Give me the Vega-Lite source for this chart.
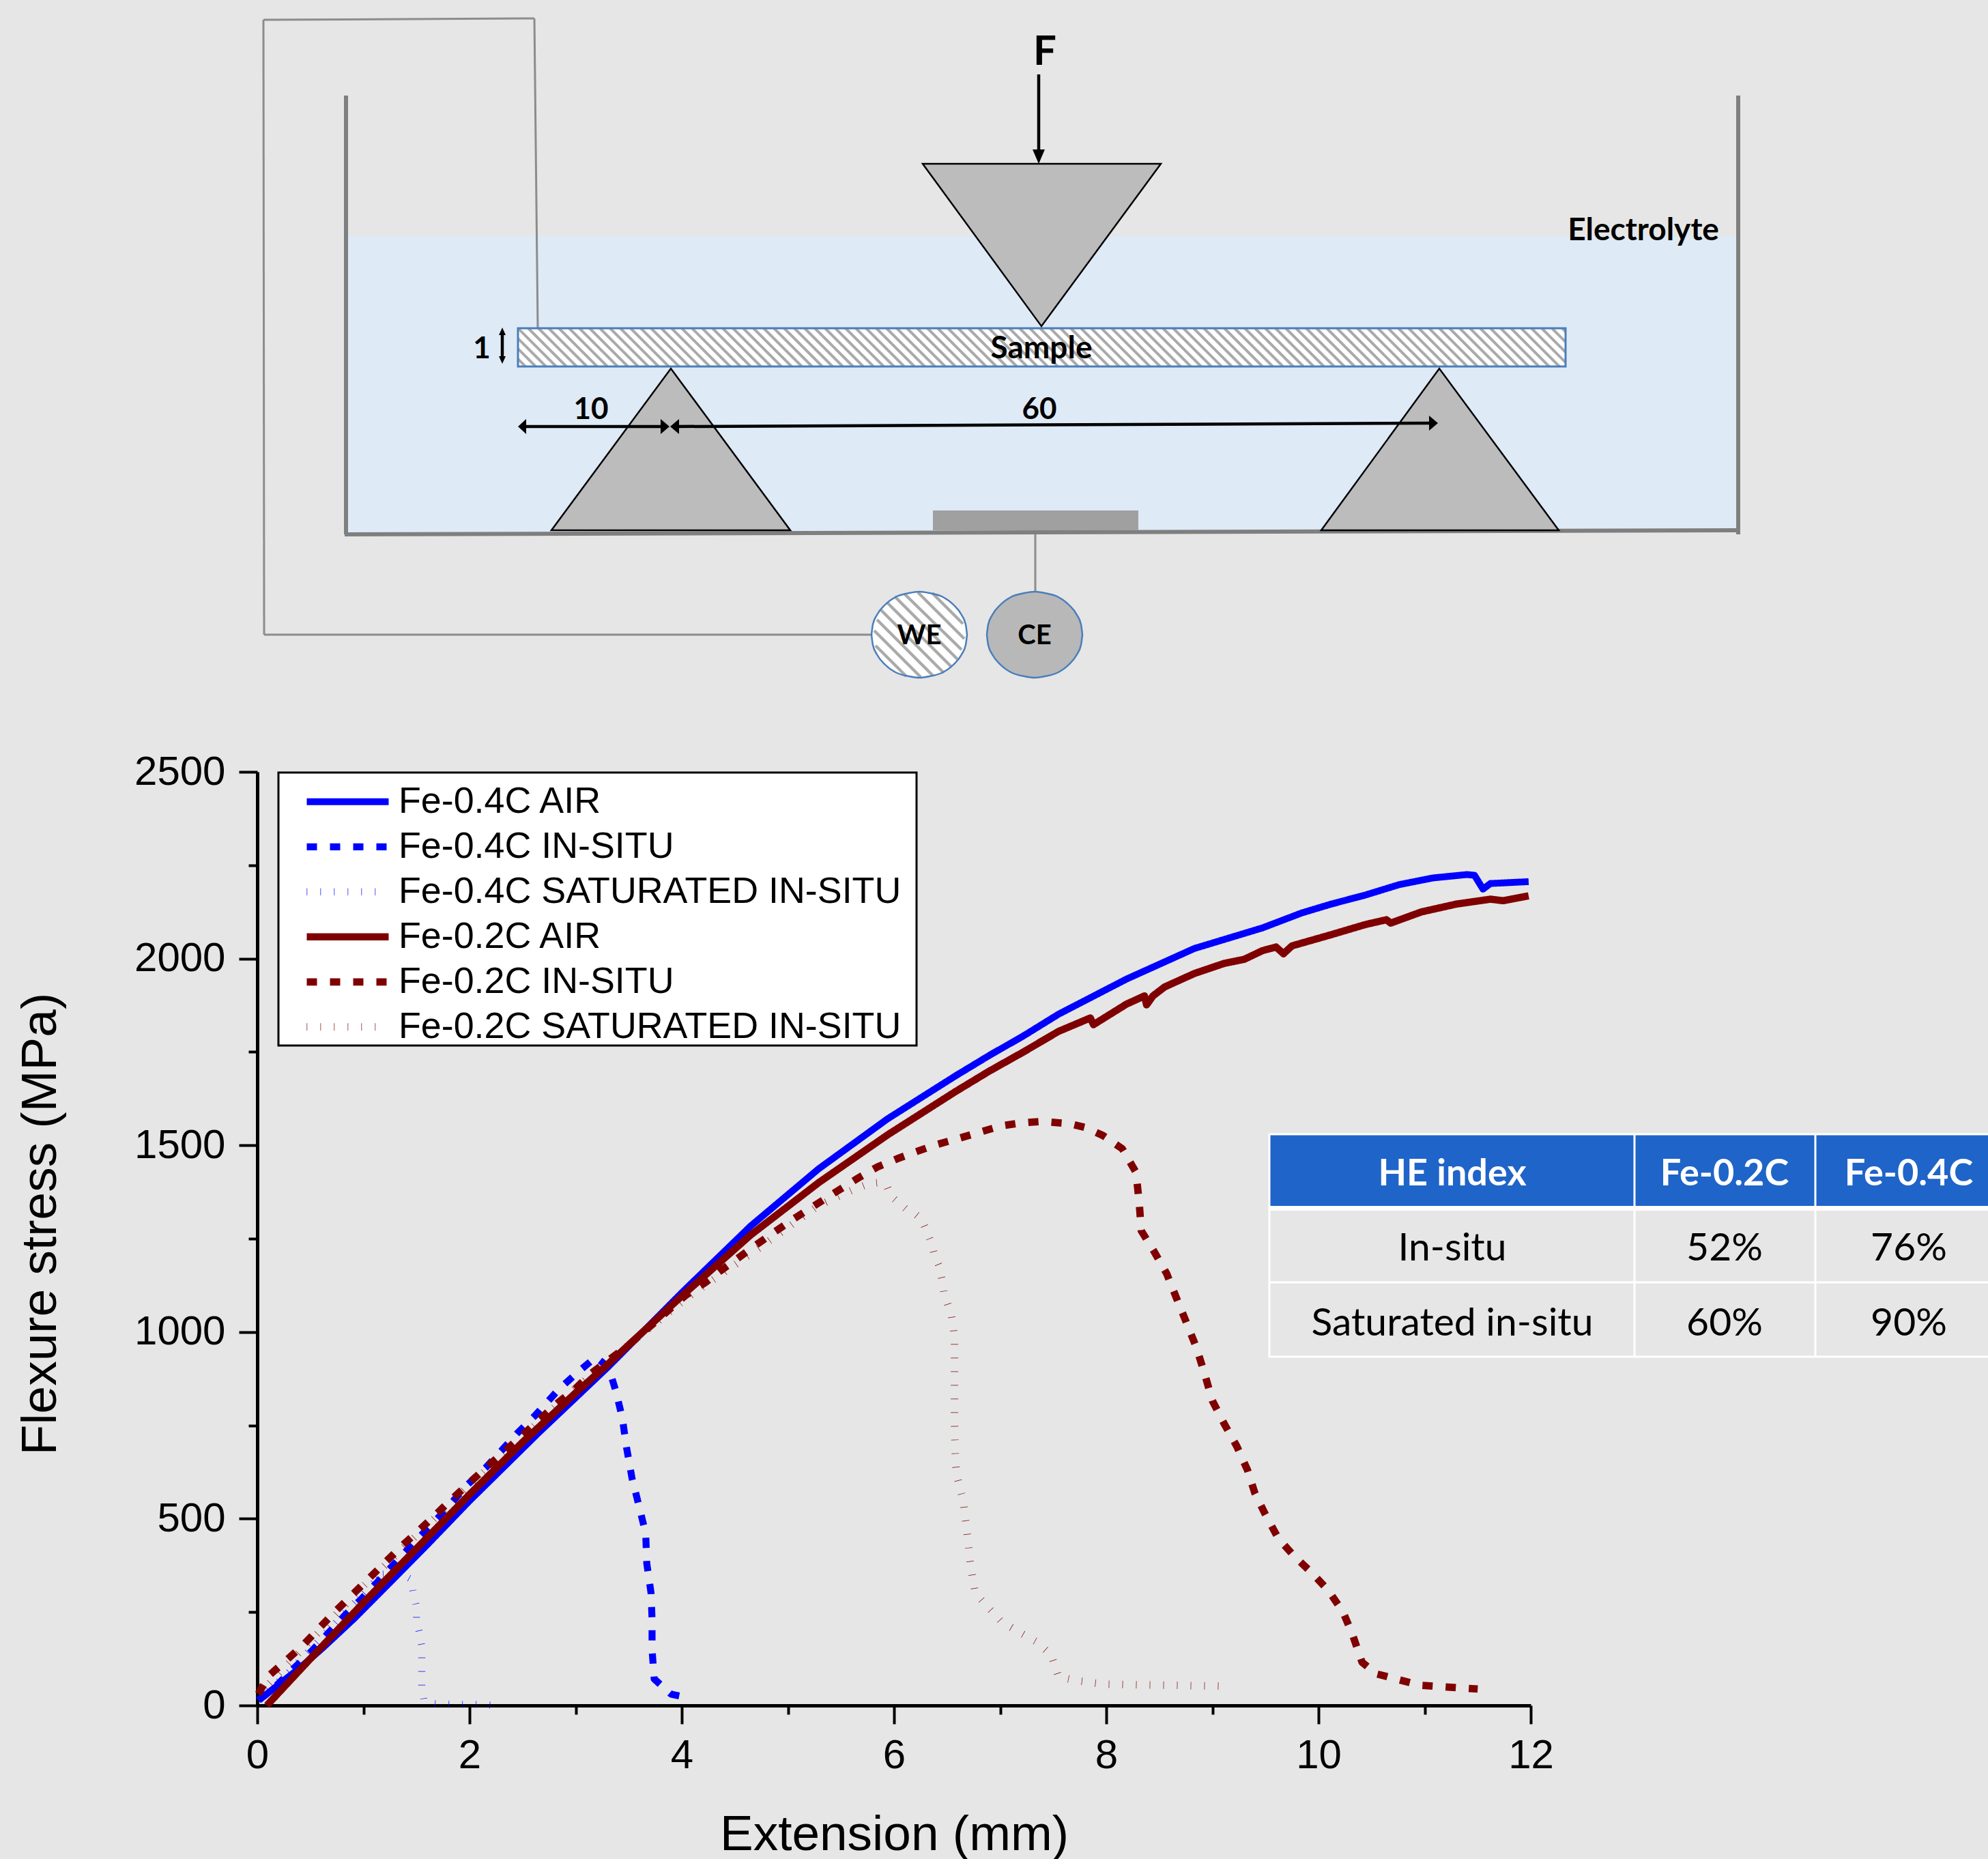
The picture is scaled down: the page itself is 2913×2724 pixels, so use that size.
{"$schema":"https://vega.github.io/schema/vega-lite/v6.json","width":1866,"height":1368,"autosize":{"type":"none"},"padding":{"left":377,"top":1131,"right":670,"bottom":225},"background":"#e6e6e6","config":{"view":{"stroke":null}},"resolve":{"scale":{"x":"independent","y":"independent"}},"layer":[{"encoding":{"x":{"field":"x","type":"quantitative","scale":{"domain":[0,2913],"range":[-377,2536],"nice":false,"zero":false},"axis":null},"y":{"field":"y","type":"quantitative","scale":{"domain":[0,2724],"range":[-1131,1593],"nice":false,"zero":false},"axis":null}},"layer":[{"data":{"values":[{"x":510,"x2":2545,"y":346,"y2":780}]},"mark":{"type":"rect","fill":"#deeaf6"},"encoding":{"x2":{"field":"x2"},"y2":{"field":"y2"}}},{"data":{"values":[{"x":386,"y":29,"x2":783,"y2":27},{"x":783,"y":27,"x2":788,"y2":481},{"x":386,"y":29,"x2":387,"y2":930},{"x":387,"y":930,"x2":1277,"y2":930},{"x":1517,"y":783,"x2":1517,"y2":866}]},"mark":{"type":"rule","stroke":"#8c8c8c","strokeWidth":3},"encoding":{"x2":{"field":"x2"},"y2":{"field":"y2"}}},{"data":{"values":[{"x":507,"y":140,"x2":507,"y2":783},{"x":505,"y":783,"x2":2547,"y2":777},{"x":2547,"y":140,"x2":2547,"y2":783}]},"mark":{"type":"rule","stroke":"#7f7f7f","strokeWidth":6},"encoding":{"x2":{"field":"x2"},"y2":{"field":"y2"}}},{"data":{"values":[{"x":1367,"x2":1668,"y":748,"y2":777}]},"mark":{"type":"rect","fill":"#a0a0a0"},"encoding":{"x2":{"field":"x2"},"y2":{"field":"y2"}}},{"data":{"values":[{"x":759,"x2":2294,"y":481,"y2":537}]},"mark":{"type":"rect","fill":"#ffffff"},"encoding":{"x2":{"field":"x2"},"y2":{"field":"y2"}}},{"data":{"values":[{"x":759,"x2":815,"y":481,"y2":537},{"x":774,"x2":830,"y":481,"y2":537},{"x":789,"x2":845,"y":481,"y2":537},{"x":804,"x2":860,"y":481,"y2":537},{"x":819,"x2":875,"y":481,"y2":537},{"x":834,"x2":890,"y":481,"y2":537},{"x":849,"x2":905,"y":481,"y2":537},{"x":864,"x2":920,"y":481,"y2":537},{"x":879,"x2":935,"y":481,"y2":537},{"x":894,"x2":950,"y":481,"y2":537},{"x":909,"x2":965,"y":481,"y2":537},{"x":924,"x2":980,"y":481,"y2":537},{"x":939,"x2":995,"y":481,"y2":537},{"x":954,"x2":1010,"y":481,"y2":537},{"x":969,"x2":1025,"y":481,"y2":537},{"x":984,"x2":1040,"y":481,"y2":537},{"x":999,"x2":1055,"y":481,"y2":537},{"x":1014,"x2":1070,"y":481,"y2":537},{"x":1029,"x2":1085,"y":481,"y2":537},{"x":1044,"x2":1100,"y":481,"y2":537},{"x":1059,"x2":1115,"y":481,"y2":537},{"x":1074,"x2":1130,"y":481,"y2":537},{"x":1089,"x2":1145,"y":481,"y2":537},{"x":1104,"x2":1160,"y":481,"y2":537},{"x":1119,"x2":1175,"y":481,"y2":537},{"x":1134,"x2":1190,"y":481,"y2":537},{"x":1149,"x2":1205,"y":481,"y2":537},{"x":1164,"x2":1220,"y":481,"y2":537},{"x":1179,"x2":1235,"y":481,"y2":537},{"x":1194,"x2":1250,"y":481,"y2":537},{"x":1209,"x2":1265,"y":481,"y2":537},{"x":1224,"x2":1280,"y":481,"y2":537},{"x":1239,"x2":1295,"y":481,"y2":537},{"x":1254,"x2":1310,"y":481,"y2":537},{"x":1269,"x2":1325,"y":481,"y2":537},{"x":1284,"x2":1340,"y":481,"y2":537},{"x":1299,"x2":1355,"y":481,"y2":537},{"x":1314,"x2":1370,"y":481,"y2":537},{"x":1329,"x2":1385,"y":481,"y2":537},{"x":1344,"x2":1400,"y":481,"y2":537},{"x":1359,"x2":1415,"y":481,"y2":537},{"x":1374,"x2":1430,"y":481,"y2":537},{"x":1389,"x2":1445,"y":481,"y2":537},{"x":1404,"x2":1460,"y":481,"y2":537},{"x":1419,"x2":1475,"y":481,"y2":537},{"x":1434,"x2":1490,"y":481,"y2":537},{"x":1449,"x2":1505,"y":481,"y2":537},{"x":1464,"x2":1520,"y":481,"y2":537},{"x":1479,"x2":1535,"y":481,"y2":537},{"x":1494,"x2":1550,"y":481,"y2":537},{"x":1509,"x2":1565,"y":481,"y2":537},{"x":1524,"x2":1580,"y":481,"y2":537},{"x":1539,"x2":1595,"y":481,"y2":537},{"x":1554,"x2":1610,"y":481,"y2":537},{"x":1569,"x2":1625,"y":481,"y2":537},{"x":1584,"x2":1640,"y":481,"y2":537},{"x":1599,"x2":1655,"y":481,"y2":537},{"x":1614,"x2":1670,"y":481,"y2":537},{"x":1629,"x2":1685,"y":481,"y2":537},{"x":1644,"x2":1700,"y":481,"y2":537},{"x":1659,"x2":1715,"y":481,"y2":537},{"x":1674,"x2":1730,"y":481,"y2":537},{"x":1689,"x2":1745,"y":481,"y2":537},{"x":1704,"x2":1760,"y":481,"y2":537},{"x":1719,"x2":1775,"y":481,"y2":537},{"x":1734,"x2":1790,"y":481,"y2":537},{"x":1749,"x2":1805,"y":481,"y2":537},{"x":1764,"x2":1820,"y":481,"y2":537},{"x":1779,"x2":1835,"y":481,"y2":537},{"x":1794,"x2":1850,"y":481,"y2":537},{"x":1809,"x2":1865,"y":481,"y2":537},{"x":1824,"x2":1880,"y":481,"y2":537},{"x":1839,"x2":1895,"y":481,"y2":537},{"x":1854,"x2":1910,"y":481,"y2":537},{"x":1869,"x2":1925,"y":481,"y2":537},{"x":1884,"x2":1940,"y":481,"y2":537},{"x":1899,"x2":1955,"y":481,"y2":537},{"x":1914,"x2":1970,"y":481,"y2":537},{"x":1929,"x2":1985,"y":481,"y2":537},{"x":1944,"x2":2000,"y":481,"y2":537},{"x":1959,"x2":2015,"y":481,"y2":537},{"x":1974,"x2":2030,"y":481,"y2":537},{"x":1989,"x2":2045,"y":481,"y2":537},{"x":2004,"x2":2060,"y":481,"y2":537},{"x":2019,"x2":2075,"y":481,"y2":537},{"x":2034,"x2":2090,"y":481,"y2":537},{"x":2049,"x2":2105,"y":481,"y2":537},{"x":2064,"x2":2120,"y":481,"y2":537},{"x":2079,"x2":2135,"y":481,"y2":537},{"x":2094,"x2":2150,"y":481,"y2":537},{"x":2109,"x2":2165,"y":481,"y2":537},{"x":2124,"x2":2180,"y":481,"y2":537},{"x":2139,"x2":2195,"y":481,"y2":537},{"x":2154,"x2":2210,"y":481,"y2":537},{"x":2169,"x2":2225,"y":481,"y2":537},{"x":2184,"x2":2240,"y":481,"y2":537},{"x":2199,"x2":2255,"y":481,"y2":537},{"x":2214,"x2":2270,"y":481,"y2":537},{"x":2229,"x2":2285,"y":481,"y2":537},{"x":759,"y":496,"x2":800,"y2":537},{"x":759,"y":511,"x2":785,"y2":537},{"x":759,"y":526,"x2":770,"y2":537},{"x":2244,"y":481,"x2":2294,"y2":531},{"x":2259,"y":481,"x2":2294,"y2":516},{"x":2274,"y":481,"x2":2294,"y2":501},{"x":2289,"y":481,"x2":2294,"y2":486}]},"mark":{"type":"rule","stroke":"#aaaaaa","strokeWidth":4},"encoding":{"x2":{"field":"x2"},"y2":{"field":"y2"}}},{"data":{"values":[{"x":759,"x2":2294,"y":481,"y2":537}]},"mark":{"type":"rect","fill":null,"stroke":"#4a7ebb","strokeWidth":3},"encoding":{"x2":{"field":"x2"},"y2":{"field":"y2"}}},{"data":{"values":[{"id":"t","x":1352,"y":240,"y2":240},{"id":"t","x":1526,"y":240,"y2":478},{"id":"t","x":1701,"y":240,"y2":240},{"id":"l","x":808,"y":777,"y2":777},{"id":"l","x":983,"y":540,"y2":777},{"id":"l","x":1158,"y":777,"y2":777},{"id":"r","x":1936,"y":777,"y2":777},{"id":"r","x":2109,"y":540,"y2":777},{"id":"r","x":2284,"y":777,"y2":777}]},"mark":{"type":"area","fill":"#bcbcbc","stroke":"#000000","strokeWidth":2.5,"fillOpacity":1},"encoding":{"detail":{"field":"id"},"y2":{"field":"y2"}}},{"data":{"values":[{"id":"CE","x":1446,"y":930,"y2":930},{"id":"CE","x":1448,"y":915,"y2":945},{"id":"CE","x":1454,"y":901,"y2":959},{"id":"CE","x":1466,"y":886,"y2":974},{"id":"CE","x":1481,"y":875,"y2":985},{"id":"CE","x":1501,"y":869,"y2":991},{"id":"CE","x":1516,"y":867,"y2":993},{"id":"CE","x":1531,"y":869,"y2":991},{"id":"CE","x":1551,"y":875,"y2":985},{"id":"CE","x":1566,"y":886,"y2":974},{"id":"CE","x":1578,"y":901,"y2":959},{"id":"CE","x":1584,"y":915,"y2":945},{"id":"CE","x":1586,"y":930,"y2":930}]},"mark":{"type":"area","interpolate":"monotone","fill":"#b8b8b8","stroke":"#4a7ebb","strokeWidth":2.5},"encoding":{"y2":{"field":"y2"}}},{"data":{"values":[{"id":"WE","x":1277,"y":930,"y2":930},{"id":"WE","x":1279,"y":915,"y2":945},{"id":"WE","x":1285,"y":901,"y2":959},{"id":"WE","x":1297,"y":886,"y2":974},{"id":"WE","x":1312,"y":875,"y2":985},{"id":"WE","x":1332,"y":869,"y2":991},{"id":"WE","x":1347,"y":867,"y2":993},{"id":"WE","x":1362,"y":869,"y2":991},{"id":"WE","x":1382,"y":875,"y2":985},{"id":"WE","x":1397,"y":886,"y2":974},{"id":"WE","x":1409,"y":901,"y2":959},{"id":"WE","x":1415,"y":915,"y2":945},{"id":"WE","x":1417,"y":930,"y2":930}]},"mark":{"type":"area","interpolate":"monotone","fill":"#ffffff"},"encoding":{"y2":{"field":"y2"}}},{"data":{"values":[{"x":1300,"y":883,"x2":1394,"y2":977},{"x":1311,"y":874,"x2":1403,"y2":966},{"x":1325,"y":870,"x2":1409,"y2":952},{"x":1345,"y":868,"x2":1413,"y2":936},{"x":1366,"y":869,"x2":1411,"y2":914},{"x":1291,"y":894,"x2":1383,"y2":986},{"x":1285,"y":908,"x2":1367,"y2":990},{"x":1281,"y":924,"x2":1349,"y2":992},{"x":1283,"y":946,"x2":1328,"y2":991}]},"mark":{"type":"rule","stroke":"#aaaaaa","strokeWidth":4.5},"encoding":{"x2":{"field":"x2"},"y2":{"field":"y2"}}},{"data":{"values":[{"id":"WE","x":1277,"y":930,"y2":930},{"id":"WE","x":1279,"y":915,"y2":945},{"id":"WE","x":1285,"y":901,"y2":959},{"id":"WE","x":1297,"y":886,"y2":974},{"id":"WE","x":1312,"y":875,"y2":985},{"id":"WE","x":1332,"y":869,"y2":991},{"id":"WE","x":1347,"y":867,"y2":993},{"id":"WE","x":1362,"y":869,"y2":991},{"id":"WE","x":1382,"y":875,"y2":985},{"id":"WE","x":1397,"y":886,"y2":974},{"id":"WE","x":1409,"y":901,"y2":959},{"id":"WE","x":1415,"y":915,"y2":945},{"id":"WE","x":1417,"y":930,"y2":930}]},"mark":{"type":"area","interpolate":"monotone","fillOpacity":0,"stroke":"#4a7ebb","strokeWidth":2.5},"encoding":{"y2":{"field":"y2"}}},{"data":{"values":[{"x":1522,"y":109,"x2":1522,"y2":222},{"x":736,"y":486,"x2":736,"y2":528},{"x":765,"y":625,"x2":972,"y2":625},{"x":990,"y":625,"x2":2098,"y2":620}]},"mark":{"type":"rule","stroke":"#000000","strokeWidth":4.5},"encoding":{"x2":{"field":"x2"},"y2":{"field":"y2"}}},{"data":{"values":[{"id":"f","x":1513,"y":219,"y2":219},{"id":"f","x":1522,"y":219,"y2":240},{"id":"f","x":1531,"y":219,"y2":219},{"id":"u","x":731,"y":491,"y2":491},{"id":"u","x":736,"y":480,"y2":491},{"id":"u","x":741,"y":491,"y2":491},{"id":"d","x":731,"y":522,"y2":522},{"id":"d","x":736,"y":522,"y2":533},{"id":"d","x":741,"y":522,"y2":522},{"id":"a","x":759,"y":625,"y2":625},{"id":"a","x":771,"y":614,"y2":636},{"id":"b","x":968,"y":614,"y2":636},{"id":"b","x":981,"y":625,"y2":625},{"id":"c","x":982,"y":625,"y2":625},{"id":"c","x":995,"y":614,"y2":636},{"id":"e","x":2094,"y":609,"y2":631},{"id":"e","x":2107,"y":620,"y2":620}]},"mark":{"type":"area","fill":"#000000"},"encoding":{"detail":{"field":"id"},"y2":{"field":"y2"}}},{"data":{"values":[{"x":1860,"x2":2913,"y":1663,"y2":1767}]},"mark":{"type":"rect","fill":"#1f64c8"},"encoding":{"x2":{"field":"x2"},"y2":{"field":"y2"}}},{"data":{"values":[{"x":1859,"x2":2913,"y":1767,"y2":1774}]},"mark":{"type":"rect","fill":"#ffffff"},"encoding":{"x2":{"field":"x2"},"y2":{"field":"y2"}}},{"data":{"values":[{"x":1860,"y":1661,"x2":1860,"y2":1989},{"x":2395,"y":1661,"x2":2395,"y2":1989},{"x":2660,"y":1661,"x2":2660,"y2":1989},{"x":1859,"y":1662,"x2":2913,"y2":1662},{"x":1859,"y":1879,"x2":2913,"y2":1879},{"x":1859,"y":1988,"x2":2913,"y2":1988}]},"mark":{"type":"rule","stroke":"#ffffff","strokeWidth":3},"encoding":{"x2":{"field":"x2"},"y2":{"field":"y2"}}},{"data":{"values":[{"x":408,"x2":1343,"y":1132,"y2":1532}]},"mark":{"type":"rect","fill":"#ffffff","stroke":"#000000","strokeWidth":3},"encoding":{"x2":{"field":"x2"},"y2":{"field":"y2"}}},{"data":{"values":[{"x":1531,"y":77,"t":"F"}]},"mark":{"type":"text","font":"Lato","fontWeight":"bold","fontSize":60,"align":"center","baseline":"middle"},"encoding":{"text":{"field":"t"}}},{"data":{"values":[{"x":2408,"y":338,"t":"Electrolyte"},{"x":1526,"y":511,"t":"Sample"}]},"mark":{"type":"text","font":"Lato","fontWeight":"bold","fontSize":46,"align":"center","baseline":"middle"},"encoding":{"text":{"field":"t"}}},{"data":{"values":[{"x":706,"y":512,"t":"1"},{"x":866,"y":601,"t":"10"},{"x":1523,"y":601,"t":"60"}]},"mark":{"type":"text","font":"Lato","fontWeight":"bold","fontSize":44,"align":"center","baseline":"middle"},"encoding":{"text":{"field":"t"}}},{"data":{"values":[{"x":1347,"y":932,"t":"WE"},{"x":1516,"y":932,"t":"CE"}]},"mark":{"type":"text","font":"Lato","fontWeight":"bold","fontSize":40,"align":"center","baseline":"middle"},"encoding":{"text":{"field":"t"}}},{"data":{"values":[{"x":2128,"y":1721,"t":"HE index"},{"x":2527,"y":1721,"t":"Fe-0.2C"},{"x":2797,"y":1721,"t":"Fe-0.4C"}]},"mark":{"type":"text","font":"Lato","fontWeight":"bold","fontSize":54,"align":"center","baseline":"middle","fill":"#ffffff"},"encoding":{"text":{"field":"t"}}},{"data":{"values":[{"x":2128,"y":1830,"t":"In-situ"},{"x":2527,"y":1830,"t":"52%"},{"x":2797,"y":1830,"t":"76%"},{"x":2128,"y":1940,"t":"Saturated in-situ"},{"x":2527,"y":1940,"t":"60%"},{"x":2797,"y":1940,"t":"90%"}]},"mark":{"type":"text","font":"Lato","fontSize":57,"align":"center","baseline":"middle","fill":"#000000"},"encoding":{"text":{"field":"t"}}}]},{"data":{"values":[{"s":"Fe-0.4C AIR","x":0.02,"y":15},{"s":"Fe-0.4C AIR","x":0.42,"y":105},{"s":"Fe-0.4C AIR","x":0.62,"y":155},{"s":"Fe-0.4C AIR","x":0.91,"y":232},{"s":"Fe-0.4C AIR","x":1.27,"y":335},{"s":"Fe-0.4C AIR","x":1.6,"y":430},{"s":"Fe-0.4C AIR","x":2,"y":548},{"s":"Fe-0.4C AIR","x":2.65,"y":730},{"s":"Fe-0.4C AIR","x":3.3,"y":905},{"s":"Fe-0.4C AIR","x":4.01,"y":1108},{"s":"Fe-0.4C AIR","x":4.65,"y":1284},{"s":"Fe-0.4C AIR","x":5.29,"y":1437},{"s":"Fe-0.4C AIR","x":5.94,"y":1571},{"s":"Fe-0.4C AIR","x":6.58,"y":1686},{"s":"Fe-0.4C AIR","x":6.9,"y":1741},{"s":"Fe-0.4C AIR","x":7.22,"y":1793},{"s":"Fe-0.4C AIR","x":7.55,"y":1851},{"s":"Fe-0.4C AIR","x":8.19,"y":1945},{"s":"Fe-0.4C AIR","x":8.83,"y":2027},{"s":"Fe-0.4C AIR","x":9.47,"y":2082},{"s":"Fe-0.4C AIR","x":9.84,"y":2122},{"s":"Fe-0.4C AIR","x":10.12,"y":2146},{"s":"Fe-0.4C AIR","x":10.44,"y":2170},{"s":"Fe-0.4C AIR","x":10.76,"y":2198},{"s":"Fe-0.4C AIR","x":11.08,"y":2216},{"s":"Fe-0.4C AIR","x":11.4,"y":2225},{"s":"Fe-0.4C AIR","x":11.47,"y":2223},{"s":"Fe-0.4C AIR","x":11.55,"y":2186},{"s":"Fe-0.4C AIR","x":11.62,"y":2201},{"s":"Fe-0.4C AIR","x":11.98,"y":2206},{"s":"Fe-0.4C IN-SITU","x":0.01,"y":14},{"s":"Fe-0.4C IN-SITU","x":0.19,"y":56},{"s":"Fe-0.4C IN-SITU","x":0.35,"y":101},{"s":"Fe-0.4C IN-SITU","x":0.51,"y":145},{"s":"Fe-0.4C IN-SITU","x":0.67,"y":194},{"s":"Fe-0.4C IN-SITU","x":0.82,"y":240},{"s":"Fe-0.4C IN-SITU","x":0.98,"y":285},{"s":"Fe-0.4C IN-SITU","x":1.13,"y":330},{"s":"Fe-0.4C IN-SITU","x":1.28,"y":376},{"s":"Fe-0.4C IN-SITU","x":1.52,"y":449},{"s":"Fe-0.4C IN-SITU","x":1.68,"y":495},{"s":"Fe-0.4C IN-SITU","x":1.83,"y":542},{"s":"Fe-0.4C IN-SITU","x":1.98,"y":591},{"s":"Fe-0.4C IN-SITU","x":2.15,"y":636},{"s":"Fe-0.4C IN-SITU","x":2.3,"y":682},{"s":"Fe-0.4C IN-SITU","x":2.45,"y":729},{"s":"Fe-0.4C IN-SITU","x":2.61,"y":774},{"s":"Fe-0.4C IN-SITU","x":2.83,"y":843},{"s":"Fe-0.4C IN-SITU","x":2.99,"y":885},{"s":"Fe-0.4C IN-SITU","x":3.19,"y":933},{"s":"Fe-0.4C IN-SITU","x":3.31,"y":905},{"s":"Fe-0.4C IN-SITU","x":3.38,"y":841},{"s":"Fe-0.4C IN-SITU","x":3.44,"y":769},{"s":"Fe-0.4C IN-SITU","x":3.48,"y":690},{"s":"Fe-0.4C IN-SITU","x":3.53,"y":610},{"s":"Fe-0.4C IN-SITU","x":3.59,"y":542},{"s":"Fe-0.4C IN-SITU","x":3.66,"y":461},{"s":"Fe-0.4C IN-SITU","x":3.67,"y":381},{"s":"Fe-0.4C IN-SITU","x":3.71,"y":302},{"s":"Fe-0.4C IN-SITU","x":3.72,"y":231},{"s":"Fe-0.4C IN-SITU","x":3.72,"y":150},{"s":"Fe-0.4C IN-SITU","x":3.74,"y":71},{"s":"Fe-0.4C IN-SITU","x":3.9,"y":30},{"s":"Fe-0.4C IN-SITU","x":4.02,"y":23},{"s":"Fe-0.4C SATURATED IN-SITU","x":0.01,"y":15},{"s":"Fe-0.4C SATURATED IN-SITU","x":0.3,"y":90},{"s":"Fe-0.4C SATURATED IN-SITU","x":0.6,"y":180},{"s":"Fe-0.4C SATURATED IN-SITU","x":0.9,"y":270},{"s":"Fe-0.4C SATURATED IN-SITU","x":1.17,"y":351},{"s":"Fe-0.4C SATURATED IN-SITU","x":1.34,"y":355},{"s":"Fe-0.4C SATURATED IN-SITU","x":1.45,"y":338},{"s":"Fe-0.4C SATURATED IN-SITU","x":1.47,"y":301},{"s":"Fe-0.4C SATURATED IN-SITU","x":1.5,"y":265},{"s":"Fe-0.4C SATURATED IN-SITU","x":1.5,"y":230},{"s":"Fe-0.4C SATURATED IN-SITU","x":1.53,"y":192},{"s":"Fe-0.4C SATURATED IN-SITU","x":1.55,"y":157},{"s":"Fe-0.4C SATURATED IN-SITU","x":1.55,"y":122},{"s":"Fe-0.4C SATURATED IN-SITU","x":1.55,"y":86},{"s":"Fe-0.4C SATURATED IN-SITU","x":1.55,"y":50},{"s":"Fe-0.4C SATURATED IN-SITU","x":1.57,"y":14},{"s":"Fe-0.4C SATURATED IN-SITU","x":1.65,"y":5},{"s":"Fe-0.4C SATURATED IN-SITU","x":1.86,"y":3},{"s":"Fe-0.4C SATURATED IN-SITU","x":2.11,"y":3},{"s":"Fe-0.4C SATURATED IN-SITU","x":2.22,"y":0},{"s":"Fe-0.2C AIR","x":0.09,"y":0},{"s":"Fe-0.2C AIR","x":0.5,"y":125},{"s":"Fe-0.2C AIR","x":1,"y":275},{"s":"Fe-0.2C AIR","x":1.5,"y":420},{"s":"Fe-0.2C AIR","x":2,"y":565},{"s":"Fe-0.2C AIR","x":2.5,"y":705},{"s":"Fe-0.2C AIR","x":3,"y":837},{"s":"Fe-0.2C AIR","x":3.3,"y":913},{"s":"Fe-0.2C AIR","x":4.01,"y":1099},{"s":"Fe-0.2C AIR","x":4.65,"y":1260},{"s":"Fe-0.2C AIR","x":5.29,"y":1400},{"s":"Fe-0.2C AIR","x":5.94,"y":1528},{"s":"Fe-0.2C AIR","x":6.58,"y":1644},{"s":"Fe-0.2C AIR","x":6.9,"y":1699},{"s":"Fe-0.2C AIR","x":7.22,"y":1750},{"s":"Fe-0.2C AIR","x":7.55,"y":1805},{"s":"Fe-0.2C AIR","x":7.85,"y":1841},{"s":"Fe-0.2C AIR","x":7.88,"y":1823},{"s":"Fe-0.2C AIR","x":7.93,"y":1832},{"s":"Fe-0.2C AIR","x":8.19,"y":1878},{"s":"Fe-0.2C AIR","x":8.36,"y":1900},{"s":"Fe-0.2C AIR","x":8.38,"y":1876},{"s":"Fe-0.2C AIR","x":8.44,"y":1900},{"s":"Fe-0.2C AIR","x":8.55,"y":1924},{"s":"Fe-0.2C AIR","x":8.83,"y":1960},{"s":"Fe-0.2C AIR","x":9.11,"y":1987},{"s":"Fe-0.2C AIR","x":9.3,"y":1998},{"s":"Fe-0.2C AIR","x":9.47,"y":2021},{"s":"Fe-0.2C AIR","x":9.6,"y":2031},{"s":"Fe-0.2C AIR","x":9.67,"y":2013},{"s":"Fe-0.2C AIR","x":9.75,"y":2034},{"s":"Fe-0.2C AIR","x":10.12,"y":2064},{"s":"Fe-0.2C AIR","x":10.44,"y":2091},{"s":"Fe-0.2C AIR","x":10.64,"y":2104},{"s":"Fe-0.2C AIR","x":10.68,"y":2095},{"s":"Fe-0.2C AIR","x":10.97,"y":2125},{"s":"Fe-0.2C AIR","x":11.3,"y":2146},{"s":"Fe-0.2C AIR","x":11.62,"y":2159},{"s":"Fe-0.2C AIR","x":11.74,"y":2155},{"s":"Fe-0.2C AIR","x":11.98,"y":2168},{"s":"Fe-0.2C IN-SITU","x":0.01,"y":31},{"s":"Fe-0.2C IN-SITU","x":0.11,"y":80},{"s":"Fe-0.2C IN-SITU","x":0.27,"y":120},{"s":"Fe-0.2C IN-SITU","x":0.43,"y":161},{"s":"Fe-0.2C IN-SITU","x":0.58,"y":206},{"s":"Fe-0.2C IN-SITU","x":0.74,"y":253},{"s":"Fe-0.2C IN-SITU","x":0.89,"y":295},{"s":"Fe-0.2C IN-SITU","x":1.03,"y":334},{"s":"Fe-0.2C IN-SITU","x":1.18,"y":376},{"s":"Fe-0.2C IN-SITU","x":1.35,"y":424},{"s":"Fe-0.2C IN-SITU","x":1.51,"y":465},{"s":"Fe-0.2C IN-SITU","x":1.67,"y":508},{"s":"Fe-0.2C IN-SITU","x":1.82,"y":549},{"s":"Fe-0.2C IN-SITU","x":1.98,"y":591},{"s":"Fe-0.2C IN-SITU","x":2.14,"y":633},{"s":"Fe-0.2C IN-SITU","x":2.3,"y":673},{"s":"Fe-0.2C IN-SITU","x":2.45,"y":711},{"s":"Fe-0.2C IN-SITU","x":2.62,"y":755},{"s":"Fe-0.2C IN-SITU","x":2.83,"y":810},{"s":"Fe-0.2C IN-SITU","x":2.99,"y":846},{"s":"Fe-0.2C IN-SITU","x":3.14,"y":888},{"s":"Fe-0.2C IN-SITU","x":3.5,"y":965},{"s":"Fe-0.2C IN-SITU","x":4.04,"y":1099},{"s":"Fe-0.2C IN-SITU","x":4.22,"y":1132},{"s":"Fe-0.2C IN-SITU","x":4.37,"y":1165},{"s":"Fe-0.2C IN-SITU","x":4.54,"y":1200},{"s":"Fe-0.2C IN-SITU","x":4.71,"y":1235},{"s":"Fe-0.2C IN-SITU","x":4.87,"y":1267},{"s":"Fe-0.2C IN-SITU","x":5.05,"y":1302},{"s":"Fe-0.2C IN-SITU","x":5.22,"y":1333},{"s":"Fe-0.2C IN-SITU","x":5.39,"y":1364},{"s":"Fe-0.2C IN-SITU","x":5.66,"y":1412},{"s":"Fe-0.2C IN-SITU","x":5.85,"y":1443},{"s":"Fe-0.2C IN-SITU","x":6.03,"y":1464},{"s":"Fe-0.2C IN-SITU","x":6.21,"y":1483},{"s":"Fe-0.2C IN-SITU","x":6.39,"y":1501},{"s":"Fe-0.2C IN-SITU","x":6.59,"y":1517},{"s":"Fe-0.2C IN-SITU","x":6.77,"y":1532},{"s":"Fe-0.2C IN-SITU","x":7.01,"y":1552},{"s":"Fe-0.2C IN-SITU","x":7.2,"y":1560},{"s":"Fe-0.2C IN-SITU","x":7.4,"y":1564},{"s":"Fe-0.2C IN-SITU","x":7.65,"y":1558},{"s":"Fe-0.2C IN-SITU","x":7.81,"y":1547},{"s":"Fe-0.2C IN-SITU","x":7.97,"y":1526},{"s":"Fe-0.2C IN-SITU","x":8.15,"y":1491},{"s":"Fe-0.2C IN-SITU","x":8.28,"y":1428},{"s":"Fe-0.2C IN-SITU","x":8.31,"y":1348},{"s":"Fe-0.2C IN-SITU","x":8.33,"y":1271},{"s":"Fe-0.2C IN-SITU","x":8.45,"y":1216},{"s":"Fe-0.2C IN-SITU","x":8.57,"y":1156},{"s":"Fe-0.2C IN-SITU","x":8.66,"y":1092},{"s":"Fe-0.2C IN-SITU","x":8.76,"y":1022},{"s":"Fe-0.2C IN-SITU","x":8.85,"y":958},{"s":"Fe-0.2C IN-SITU","x":8.93,"y":885},{"s":"Fe-0.2C IN-SITU","x":9,"y":816},{"s":"Fe-0.2C IN-SITU","x":9.11,"y":755},{"s":"Fe-0.2C IN-SITU","x":9.23,"y":694},{"s":"Fe-0.2C IN-SITU","x":9.33,"y":631},{"s":"Fe-0.2C IN-SITU","x":9.4,"y":569},{"s":"Fe-0.2C IN-SITU","x":9.5,"y":511},{"s":"Fe-0.2C IN-SITU","x":9.62,"y":448},{"s":"Fe-0.2C IN-SITU","x":9.77,"y":400},{"s":"Fe-0.2C IN-SITU","x":9.93,"y":357},{"s":"Fe-0.2C IN-SITU","x":10.09,"y":309},{"s":"Fe-0.2C IN-SITU","x":10.23,"y":251},{"s":"Fe-0.2C IN-SITU","x":10.32,"y":190},{"s":"Fe-0.2C IN-SITU","x":10.41,"y":116},{"s":"Fe-0.2C IN-SITU","x":10.54,"y":85},{"s":"Fe-0.2C IN-SITU","x":10.96,"y":54},{"s":"Fe-0.2C IN-SITU","x":11.5,"y":44},{"s":"Fe-0.2C SATURATED IN-SITU","x":0.01,"y":40},{"s":"Fe-0.2C SATURATED IN-SITU","x":0.1,"y":55},{"s":"Fe-0.2C SATURATED IN-SITU","x":1,"y":320},{"s":"Fe-0.2C SATURATED IN-SITU","x":2,"y":590},{"s":"Fe-0.2C SATURATED IN-SITU","x":3,"y":850},{"s":"Fe-0.2C SATURATED IN-SITU","x":4.05,"y":1092},{"s":"Fe-0.2C SATURATED IN-SITU","x":4.65,"y":1209},{"s":"Fe-0.2C SATURATED IN-SITU","x":5.29,"y":1339},{"s":"Fe-0.2C SATURATED IN-SITU","x":5.6,"y":1379},{"s":"Fe-0.2C SATURATED IN-SITU","x":5.76,"y":1397},{"s":"Fe-0.2C SATURATED IN-SITU","x":5.85,"y":1400},{"s":"Fe-0.2C SATURATED IN-SITU","x":5.93,"y":1394},{"s":"Fe-0.2C SATURATED IN-SITU","x":5.97,"y":1364},{"s":"Fe-0.2C SATURATED IN-SITU","x":6.11,"y":1330},{"s":"Fe-0.2C SATURATED IN-SITU","x":6.2,"y":1316},{"s":"Fe-0.2C SATURATED IN-SITU","x":6.26,"y":1302},{"s":"Fe-0.2C SATURATED IN-SITU","x":6.3,"y":1275},{"s":"Fe-0.2C SATURATED IN-SITU","x":6.35,"y":1240},{"s":"Fe-0.2C SATURATED IN-SITU","x":6.38,"y":1207},{"s":"Fe-0.2C SATURATED IN-SITU","x":6.42,"y":1180},{"s":"Fe-0.2C SATURATED IN-SITU","x":6.45,"y":1143},{"s":"Fe-0.2C SATURATED IN-SITU","x":6.47,"y":1108},{"s":"Fe-0.2C SATURATED IN-SITU","x":6.5,"y":1079},{"s":"Fe-0.2C SATURATED IN-SITU","x":6.54,"y":1044},{"s":"Fe-0.2C SATURATED IN-SITU","x":6.56,"y":1010},{"s":"Fe-0.2C SATURATED IN-SITU","x":6.57,"y":973},{"s":"Fe-0.2C SATURATED IN-SITU","x":6.57,"y":936},{"s":"Fe-0.2C SATURATED IN-SITU","x":6.57,"y":760},{"s":"Fe-0.2C SATURATED IN-SITU","x":6.58,"y":651},{"s":"Fe-0.2C SATURATED IN-SITU","x":6.59,"y":617},{"s":"Fe-0.2C SATURATED IN-SITU","x":6.65,"y":552},{"s":"Fe-0.2C SATURATED IN-SITU","x":6.68,"y":483},{"s":"Fe-0.2C SATURATED IN-SITU","x":6.72,"y":377},{"s":"Fe-0.2C SATURATED IN-SITU","x":6.76,"y":309},{"s":"Fe-0.2C SATURATED IN-SITU","x":6.82,"y":284},{"s":"Fe-0.2C SATURATED IN-SITU","x":6.89,"y":262},{"s":"Fe-0.2C SATURATED IN-SITU","x":7.01,"y":225},{"s":"Fe-0.2C SATURATED IN-SITU","x":7.18,"y":196},{"s":"Fe-0.2C SATURATED IN-SITU","x":7.34,"y":171},{"s":"Fe-0.2C SATURATED IN-SITU","x":7.48,"y":136},{"s":"Fe-0.2C SATURATED IN-SITU","x":7.55,"y":77},{"s":"Fe-0.2C SATURATED IN-SITU","x":7.71,"y":67},{"s":"Fe-0.2C SATURATED IN-SITU","x":7.97,"y":57},{"s":"Fe-0.2C SATURATED IN-SITU","x":8.34,"y":55},{"s":"Fe-0.2C SATURATED IN-SITU","x":9.1,"y":52}]},"mark":{"type":"line","strokeJoin":"round","clip":false},"encoding":{"x":{"field":"x","type":"quantitative","title":"Extension (mm)","scale":{"domain":[0,12],"nice":false,"zero":false},"axis":{"orient":"bottom","values":[0,1,2,3,4,5,6,7,8,9,10,11,12],"labelExpr":"datum.value % 2 === 0 ? datum.label : ''","tickSize":{"condition":{"test":"datum.value % 2 === 0","value":27},"value":13},"tickWidth":4,"tickColor":"#000000","domainWidth":5,"domainColor":"#000000","labelFont":"Liberation Sans","labelFontSize":60,"labelColor":"#000000","labelPadding":17,"labelFlush":false,"labelOverlap":false,"titleFont":"Liberation Sans","titleFontSize":73,"titleFontWeight":"normal","titleColor":"#000000","titlePadding":50,"grid":false}},"y":{"field":"y","type":"quantitative","title":"Flexure stress (MPa)","scale":{"domain":[0,2500],"nice":false,"zero":false},"axis":{"orient":"left","values":[0,250,500,750,1000,1250,1500,1750,2000,2250,2500],"labelExpr":"datum.value % 500 === 0 ? datum.label : ''","format":"d","tickSize":{"condition":{"test":"datum.value % 500 === 0","value":27},"value":13},"tickWidth":4,"tickColor":"#000000","domainWidth":5,"domainColor":"#000000","labelFont":"Liberation Sans","labelFontSize":60,"labelColor":"#000000","labelPadding":20,"labelFlush":false,"labelOverlap":false,"titleFont":"Liberation Sans","titleFontSize":73,"titleFontWeight":"normal","titleColor":"#000000","titlePadding":100,"titleY":662,"grid":false}},"color":{"field":"s","type":"nominal","title":null,"scale":{"domain":["Fe-0.4C AIR","Fe-0.4C IN-SITU","Fe-0.4C SATURATED IN-SITU","Fe-0.2C AIR","Fe-0.2C IN-SITU","Fe-0.2C SATURATED IN-SITU"],"range":["#0000ff","#0000ff","#0000ff","#7f0000","#7f0000","#7f0000"]},"legend":{"orient":"none","legendX":31,"legendY":8,"symbolType":"stroke","symbolSize":14400,"clipHeight":65.6,"rowPadding":0,"padding":3,"labelFont":"Liberation Sans","labelFontSize":53.8,"labelColor":"#000000","labelLimit":900,"labelOffset":9,"symbolOffset":33}},"strokeDash":{"field":"s","type":"nominal","title":null,"scale":{"domain":["Fe-0.4C AIR","Fe-0.4C IN-SITU","Fe-0.4C SATURATED IN-SITU","Fe-0.2C AIR","Fe-0.2C IN-SITU","Fe-0.2C SATURATED IN-SITU"],"range":[[1,0],[15,19],[0.7,19.3],[1,0],[15,19],[0.7,19.3]]}},"strokeWidth":{"field":"s","type":"nominal","title":null,"scale":{"domain":["Fe-0.4C AIR","Fe-0.4C IN-SITU","Fe-0.4C SATURATED IN-SITU","Fe-0.2C AIR","Fe-0.2C IN-SITU","Fe-0.2C SATURATED IN-SITU"],"range":[10,11,10,10,11,10]}}}}]}
